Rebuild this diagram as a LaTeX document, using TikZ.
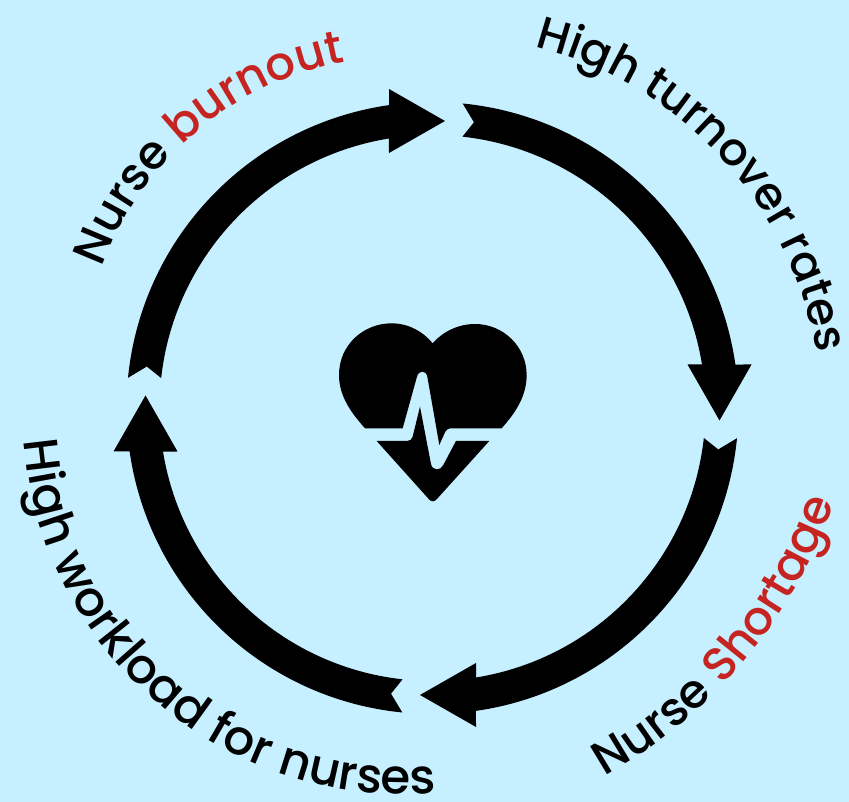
\documentclass[tikz,border=0pt]{standalone}
\usepackage{fontspec}
\setmainfont{Poppins Medium}
\usepackage{tikz}
\usetikzlibrary{decorations.text}
\definecolor{ringbg}{HTML}{C6EFFF}
\definecolor{wordred}{HTML}{C52421}
\newcommand{\ringfont}[1]{\fontsize{#1}{56}\selectfont}

\begin{document}
\begin{tikzpicture}[x=1pt,y=1pt]
\tikzstyle{ringarrow}=[fill=black]
\tikzstyle{ringtext}=[decorate,decoration={text along path,text align=left,raise=0pt}]
\useasboundingbox (0,0) rectangle (849,802);
\fill[ringbg] (0,0) rectangle (849,802);
\coordinate (centre) at (432.5,394);
% four arrows of the ring
\foreach \turn in {0,-90,-180,-270} {
  \begin{scope}[shift={(centre)},rotate=\turn]
  \fill[ringarrow] (84.34:306) arc[start angle=84.34,end angle=8.17,radius=306]
    -- (319,43.5) -- (287,-12.5) -- (255,43.5) -- (9.2:273)
    arc[start angle=9.2,end angle=83.7,radius=273] -- (81.74:288.7) -- cycle;
  \end{scope}
}
% labels
\path[ringtext,decoration={text={|\ringfont{46.5}|Nurse |\ringfont{46.5}\color{wordred}|burnout}}]
  ([shift={(402,426)}]160.2:319) arc[start angle=160.2,end angle=30,radius=319];
\path[ringtext,decoration={text={|\ringfont{45.6}|High turnover rates}}]
  ([shift={(441,386)}]75.8:381) arc[start angle=75.8,end angle=-30,radius=381];
\path[ringtext,decoration={text={|\ringfont{47}|Nurse |\ringfont{47}\color{wordred}|Shortage}}]
  ([shift={(358,465)}]-60.7:504) arc[start angle=-60.7,end angle=30,radius=504];
\path[ringtext,decoration={text={|\ringfont{48.4}|High workload for nurses}}]
  ([shift={(405,390)}]184.3:382) arc[start angle=184.3,end angle=300,radius=382];
% heart
\begin{scope}[shift={(320,492)},x=0.3333pt,y=-0.3333pt]
\fill[black] (135,355) .. controls (95,310) and (57,260) .. (57,195)
  .. controls (57,105) and (130,40) .. (215,40)
  .. controls (265,40) and (310,65) .. (338,100)
  .. controls (368,65) and (415,42) .. (465,42)
  .. controls (550,42) and (620,110) .. (620,195)
  .. controls (620,260) and (585,310) .. (545,355)
  -- (392,355) .. controls (385,355) and (380,358) .. (376,365) -- (358,405)
  -- (322,200) .. controls (318,180) and (296,180) .. (291,200) -- (248,355) -- cycle;
\fill[black] (170,393) -- (262,393) .. controls (270,393) and (276,388) .. (278,380)
  -- (300,290) -- (333,462) .. controls (337,483) and (362,483) .. (370,465)
  -- (408,393) -- (508,393) -- (350,568) .. controls (343,576) and (334,576) .. (327,568) -- cycle;
\end{scope}
\end{tikzpicture}
\end{document}
